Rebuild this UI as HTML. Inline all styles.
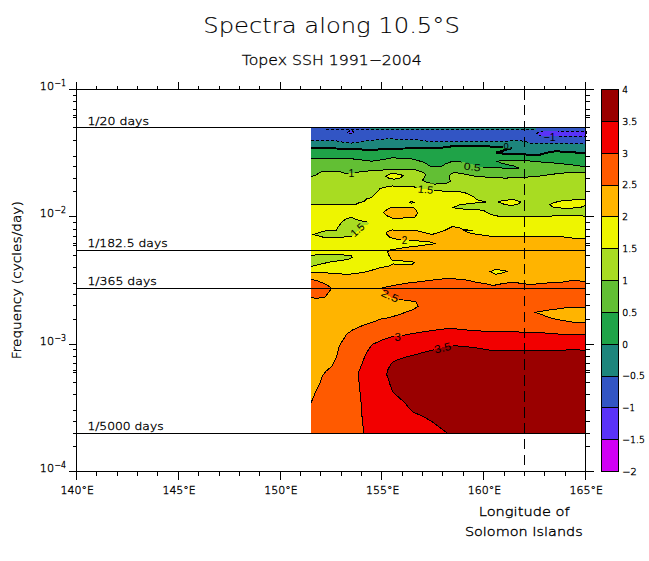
<!DOCTYPE html>
<html><head><meta charset="utf-8"><title>Spectra along 10.5°S</title>
<style>html,body{margin:0;padding:0;background:#fff}svg{display:block}</style></head>
<body>
<svg width="649" height="561" viewBox="0 0 649 561">
<rect width="649" height="561" fill="#fff"/>
<g shape-rendering="crispEdges">
<rect x="311" y="128" width="275" height="305" fill="#3255c4"/>
<rect x="370" y="128" width="166" height="1.6" fill="#1d857c"/>
<polygon points="536.6,133.7 538.5,132.3 543.4,131.4 552.0,131.0 586.0,131.0 586.0,136.6 562.0,136.3 542.0,136.3 539.5,135.3" fill="#5a32f8"/>
<polygon points="347.5,132.5 350.0,130.6 352.5,131.0 354.0,132.8 351.0,133.7" fill="#5a32f8"/>
<polygon points="311.0,140.5 335.8,140.7 342.0,142.0 350.6,143.2 356.8,142.3 364.2,141.1 374.0,140.2 385.0,139.3 391.1,138.0 394.8,139.3 417.0,139.9 429.3,141.5 460.0,141.5 509.0,141.1 511.0,140.2 516.0,140.2 525.0,141.4 531.0,143.2 552.0,143.2 586.0,143.9 586.0,433.0 311.0,433.0" fill="#1d857c"/>
<polygon points="311.0,148.1 325.8,148.1 335.8,148.5 356.8,148.9 363.0,149.6 371.6,150.1 379.0,149.4 385.0,148.7 404.7,148.5 439.2,148.1 449.0,146.7 451.2,146.4 469.7,145.7 482.0,146.0 501.7,147.3 512.2,148.1 495.8,152.6 505.4,153.9 515.0,153.8 524.9,154.3 531.0,155.3 539.7,154.7 549.5,152.2 555.7,151.3 566.8,151.8 576.7,152.6 586.0,153.0 586.0,433.0 311.0,433.0" fill="#1fa348"/>
<polygon points="311.0,158.7 351.9,158.7 356.8,159.6 364.2,160.2 371.6,161.2 379.0,160.2 392.3,157.8 410.8,158.7 423.2,162.0 431.8,167.0 441.7,166.2 445.5,163.9 451.1,161.8 455.3,161.1 468.0,163.0 481.6,167.3 490.0,167.8 519.3,168.3 513.1,165.8 502.3,163.5 496.9,161.2 503.9,160.4 523.9,160.4 536.2,161.6 556.3,163.2 573.2,165.0 586.0,166.8 586.0,433.0 311.0,433.0" fill="#62bf34"/>
<polygon points="311.0,176.7 314.9,175.5 319.8,172.6 323.5,171.2 338.3,171.2 345.7,173.4 350.0,173.0 356.8,172.4 364.2,171.2 380.0,170.5 384.9,169.7 413.3,169.3 421.9,171.8 425.6,174.2 424.4,177.3 422.5,180.4 426.9,182.3 434.3,184.1 446.6,183.5 450.5,181.0 449.0,177.3 450.3,174.2 454.0,172.4 462.3,173.6 474.7,176.1 490.0,177.4 505.4,178.1 520.8,177.4 536.2,176.6 551.6,174.3 570.1,172.4 586.0,172.0 586.0,433.0 311.0,433.0" fill="#a8dc22"/>
<polygon points="386.0,176.3 389.0,174.3 392.3,173.6 399.7,174.2 403.4,175.9 400.0,178.0 393.6,179.2 389.0,178.3" fill="#eef500"/>
<polygon points="311.0,204.5 355.6,204.5 359.3,202.6 364.2,201.4 366.7,198.9 371.6,197.7 375.3,194.0 380.2,188.4 385.0,187.2 392.3,186.0 413.3,186.6 417.0,187.8 425.0,189.0 434.3,190.3 441.8,191.0 454.8,191.3 464.0,192.4 467.7,193.8 472.3,196.1 475.1,197.9 477.0,199.8 486.2,202.1 469.6,203.5 459.4,204.9 452.9,207.6 458.5,208.8 475.1,209.5 483.4,210.4 490.8,214.6 498.0,216.1 520.0,216.3 548.3,216.7 554.5,215.5 579.0,215.5 586.0,216.3 586.0,433.0 311.0,433.0" fill="#eef500"/>
<polygon points="498.0,202.0 502.0,200.7 508.0,200.0 514.5,199.7 521.0,202.2 517.0,204.5 511.0,205.6 505.0,204.5" fill="#eef500"/>
<polygon points="586.0,199.5 575.0,199.8 562.5,200.8 558.0,201.6 553.0,203.0 550.1,204.5 552.0,206.8 556.0,207.8 570.0,208.4 581.6,207.0 586.0,205.0" fill="#eef500"/>
<polygon points="313.6,234.5 322.3,231.4 330.0,230.2 336.2,230.2 337.7,227.7 341.6,222.3 345.4,219.2 350.8,217.3 357.0,219.6 362.4,221.2 367.0,221.9 370.0,223.9 363.9,225.4 360.8,229.3 356.2,232.3 352.3,236.2 341.6,237.3 323.5,237.3" fill="#a8dc22"/>
<polygon points="311.0,255.4 321.0,254.5 342.0,254.8 351.2,255.8 352.5,257.3 348.2,259.5 329.7,262.0 311.0,266.5" fill="#a8dc22"/>
<polygon points="409.6,202.3 411.8,201.4 414.0,202.3 411.8,203.2" fill="#a8dc22"/>
<polygon points="311.0,272.3 335.8,273.3 347.0,274.5 364.2,272.3 374.0,269.6 379.0,268.1 389.6,265.8 393.3,264.0 411.8,264.6 414.3,262.7 411.8,261.5 400.7,260.9 392.0,260.3 388.4,254.7 387.7,251.6 390.8,249.8 406.9,247.3 421.7,245.5 435.5,243.7 429.0,241.8 409.3,240.2 397.0,239.3 389.9,237.6 386.2,233.9 387.4,231.4 392.3,230.0 417.0,230.8 431.8,234.5 444.0,230.8 452.3,226.6 458.5,227.4 462.0,229.0 472.5,230.8 463.5,230.4 470.8,233.4 479.5,234.6 491.8,236.4 520.0,236.8 561.9,236.8 571.7,238.0 586.0,238.3 586.0,433.0 311.0,433.0" fill="#ffb400"/>
<polygon points="383.7,212.3 387.0,209.5 391.7,207.2 413.3,207.2 416.5,210.5 417.5,213.0 414.5,217.9 392.3,218.1 386.2,215.4" fill="#ffb400"/>
<polygon points="490.5,271.6 495.4,269.5 502.0,270.3 507.7,271.3 502.0,273.0 495.4,274.4" fill="#eef500"/>
<polygon points="311.0,403.0 312.4,399.5 316.1,390.8 319.8,383.4 322.3,376.0 326.0,371.1 332.1,366.2 334.6,361.2 337.1,355.0 338.9,347.6 342.0,341.4 346.9,334.0 353.1,329.7 363.0,325.4 374.0,321.7 380.0,319.2 389.8,317.5 399.7,314.4 412.0,310.0 418.2,306.4 415.7,301.8 405.8,300.2 397.5,299.5 391.0,297.8 386.0,293.2 381.5,289.0 382.4,287.9 387.3,286.6 397.2,284.8 408.3,283.0 424.3,281.1 439.1,279.2 449.8,278.4 468.3,280.2 475.7,282.1 486.8,283.9 493.0,285.5 499.1,284.3 504.0,283.3 515.0,282.3 520.0,283.3 529.8,284.5 550.8,282.7 563.1,282.0 574.2,280.2 580.4,281.1 586.0,281.4 586.0,433.0 311.0,433.0" fill="#ff5a00"/>
<polygon points="311.0,279.3 317.3,280.9 324.7,283.6 329.7,286.7 330.9,288.6 329.7,291.0 326.0,296.0 324.7,297.4 317.3,298.2 311.0,297.8" fill="#ff5a00"/>
<polygon points="586.0,322.4 574.2,322.4 566.8,321.2 552.0,318.5 535.3,312.3 552.0,309.6 564.3,308.0 586.0,307.2" fill="#ffb400"/>
<polygon points="363.6,433.0 363.0,425.8 361.7,413.5 361.1,403.2 359.9,390.8 358.6,378.5 358.6,372.3 360.5,367.4 363.0,361.2 365.4,355.0 369.1,348.8 372.2,344.5 379.0,341.4 380.0,340.8 392.3,336.5 403.4,335.3 417.0,332.8 429.3,331.0 439.2,329.5 449.0,328.5 455.0,328.5 458.7,329.5 468.6,330.1 484.6,331.3 515.0,331.8 524.9,332.3 544.6,333.0 564.3,334.5 586.0,334.8 586.0,433.0" fill="#f20000"/>
<polygon points="447.0,433.0 446.5,432.5 439.1,427.0 431.7,421.4 421.9,415.9 413.2,412.2 408.3,407.3 404.6,402.3 399.5,398.0 395.5,394.5 392.6,391.5 390.4,385.8 388.6,379.6 386.7,374.7 387.3,371.0 389.8,366.0 392.3,362.3 397.2,359.9 404.6,357.4 414.5,354.9 424.3,352.2 433.0,350.0 442.0,347.5 455.0,345.5 458.7,346.1 468.6,347.0 477.2,348.0 484.6,349.2 490.8,350.4 565.6,350.4 566.8,349.4 579.0,349.4 580.4,350.4 586.0,350.4 586.0,433.0" fill="#9a0000"/>
</g>
<defs><mask id="lm" maskUnits="userSpaceOnUse" x="0" y="0" width="649" height="561"><rect width="649" height="561" fill="#fff"/><rect x="543" y="131" width="15" height="11" fill="#000"/>
<rect x="503" y="142.5" width="7.5" height="6.099999999999994" fill="#000"/>
<rect x="461.5" y="160.5" width="21.5" height="10.5" fill="#000"/>
<rect x="348.5" y="168" width="6.300000000000011" height="9.5" fill="#000"/>
<rect x="416.5" y="183.5" width="17.5" height="11.0" fill="#000"/>
<rect x="352" y="222" width="18" height="16" fill="#000"/>
<rect x="401" y="235.5" width="8" height="9.0" fill="#000"/>
<rect x="379" y="288" width="20" height="13" fill="#000"/>
<rect x="394" y="331" width="8" height="11" fill="#000"/>
<rect x="434" y="341.5" width="19" height="13.0" fill="#000"/></mask></defs>
<g mask="url(#lm)" shape-rendering="crispEdges">
<polyline points="311.0,140.5 335.8,140.7 342.0,142.0 350.6,143.2 356.8,142.3 364.2,141.1 374.0,140.2 385.0,139.3 391.1,138.0 394.8,139.3 417.0,139.9 429.3,141.5 460.0,141.5 509.0,141.1 511.0,140.2 516.0,140.2 525.0,141.4 531.0,143.2 552.0,143.2 586.0,143.9" fill="none" stroke="#000" stroke-width="1" stroke-dasharray="3 2"/>
<polyline points="326.0,129.5 536.0,129.5" fill="none" stroke="#000" stroke-width="1" stroke-dasharray="3 2"/>
<polyline points="311.0,148.1 325.8,148.1 335.8,148.5 356.8,148.9 363.0,149.6 371.6,150.1 379.0,149.4 385.0,148.7 404.7,148.5 439.2,148.1 449.0,146.7 451.2,146.4 469.7,145.7 482.0,146.0 501.7,147.3 512.2,148.1 495.8,152.6 505.4,153.9 515.0,153.8 524.9,154.3 531.0,155.3 539.7,154.7 549.5,152.2 555.7,151.3 566.8,151.8 576.7,152.6 586.0,153.0" fill="none" stroke="#000" stroke-width="2"/>
<polyline points="311.0,158.7 351.9,158.7 356.8,159.6 364.2,160.2 371.6,161.2 379.0,160.2 392.3,157.8 410.8,158.7 423.2,162.0 431.8,167.0 441.7,166.2 445.5,163.9 451.1,161.8 455.3,161.1 468.0,163.0 481.6,167.3 490.0,167.8 519.3,168.3 513.1,165.8 502.3,163.5 496.9,161.2 503.9,160.4 523.9,160.4 536.2,161.6 556.3,163.2 573.2,165.0 586.0,166.8" fill="none" stroke="#000" stroke-width="1"/>
<polyline points="311.0,176.7 314.9,175.5 319.8,172.6 323.5,171.2 338.3,171.2 345.7,173.4 350.0,173.0 356.8,172.4 364.2,171.2 380.0,170.5 384.9,169.7 413.3,169.3 421.9,171.8 425.6,174.2 424.4,177.3 422.5,180.4 426.9,182.3 434.3,184.1 446.6,183.5 450.5,181.0 449.0,177.3 450.3,174.2 454.0,172.4 462.3,173.6 474.7,176.1 490.0,177.4 505.4,178.1 520.8,177.4 536.2,176.6 551.6,174.3 570.1,172.4 586.0,172.0" fill="none" stroke="#000" stroke-width="1"/>
<polyline points="311.0,204.5 355.6,204.5 359.3,202.6 364.2,201.4 366.7,198.9 371.6,197.7 375.3,194.0 380.2,188.4 385.0,187.2 392.3,186.0 413.3,186.6 417.0,187.8 425.0,189.0 434.3,190.3 441.8,191.0 454.8,191.3 464.0,192.4 467.7,193.8 472.3,196.1 475.1,197.9 477.0,199.8 486.2,202.1 469.6,203.5 459.4,204.9 452.9,207.6 458.5,208.8 475.1,209.5 483.4,210.4 490.8,214.6 498.0,216.1 520.0,216.3 548.3,216.7 554.5,215.5 579.0,215.5 586.0,216.3" fill="none" stroke="#000" stroke-width="1"/>
<polyline points="311.0,272.3 335.8,273.3 347.0,274.5 364.2,272.3 374.0,269.6 379.0,268.1 389.6,265.8 393.3,264.0 411.8,264.6 414.3,262.7 411.8,261.5 400.7,260.9 392.0,260.3 388.4,254.7 387.7,251.6 390.8,249.8 406.9,247.3 421.7,245.5 435.5,243.7 429.0,241.8 409.3,240.2 397.0,239.3 389.9,237.6 386.2,233.9 387.4,231.4 392.3,230.0 417.0,230.8 431.8,234.5 444.0,230.8 452.3,226.6 458.5,227.4 462.0,229.0 472.5,230.8 463.5,230.4 470.8,233.4 479.5,234.6 491.8,236.4 520.0,236.8 561.9,236.8 571.7,238.0 586.0,238.3" fill="none" stroke="#000" stroke-width="1"/>
<polyline points="311.0,403.0 312.4,399.5 316.1,390.8 319.8,383.4 322.3,376.0 326.0,371.1 332.1,366.2 334.6,361.2 337.1,355.0 338.9,347.6 342.0,341.4 346.9,334.0 353.1,329.7 363.0,325.4 374.0,321.7 380.0,319.2 389.8,317.5 399.7,314.4 412.0,310.0 418.2,306.4 415.7,301.8 405.8,300.2 397.5,299.5 391.0,297.8 386.0,293.2 381.5,289.0 382.4,287.9 387.3,286.6 397.2,284.8 408.3,283.0 424.3,281.1 439.1,279.2 449.8,278.4 468.3,280.2 475.7,282.1 486.8,283.9 493.0,285.5 499.1,284.3 504.0,283.3 515.0,282.3 520.0,283.3 529.8,284.5 550.8,282.7 563.1,282.0 574.2,280.2 580.4,281.1 586.0,281.4" fill="none" stroke="#000" stroke-width="1"/>
<polyline points="363.6,433.0 363.0,425.8 361.7,413.5 361.1,403.2 359.9,390.8 358.6,378.5 358.6,372.3 360.5,367.4 363.0,361.2 365.4,355.0 369.1,348.8 372.2,344.5 379.0,341.4 380.0,340.8 392.3,336.5 403.4,335.3 417.0,332.8 429.3,331.0 439.2,329.5 449.0,328.5 455.0,328.5 458.7,329.5 468.6,330.1 484.6,331.3 515.0,331.8 524.9,332.3 544.6,333.0 564.3,334.5 586.0,334.8" fill="none" stroke="#000" stroke-width="1"/>
<polyline points="447.0,433.0 446.5,432.5 439.1,427.0 431.7,421.4 421.9,415.9 413.2,412.2 408.3,407.3 404.6,402.3 399.5,398.0 395.5,394.5 392.6,391.5 390.4,385.8 388.6,379.6 386.7,374.7 387.3,371.0 389.8,366.0 392.3,362.3 397.2,359.9 404.6,357.4 414.5,354.9 424.3,352.2 433.0,350.0 442.0,347.5 455.0,345.5 458.7,346.1 468.6,347.0 477.2,348.0 484.6,349.2 490.8,350.4 565.6,350.4 566.8,349.4 579.0,349.4 580.4,350.4 586.0,350.4" fill="none" stroke="#000" stroke-width="1"/>
<polygon points="536.6,133.7 538.5,132.3 543.4,131.4 552.0,131.0 586.0,131.0 586.0,136.6 562.0,136.3 542.0,136.3 539.5,135.3" fill="none" stroke="#000" stroke-width="1" stroke-dasharray="3 2"/>
<polygon points="347.5,132.5 350.0,130.6 352.5,131.0 354.0,132.8 351.0,133.7" fill="none" stroke="#000" stroke-width="1" stroke-dasharray="3 2"/>
<polygon points="386.0,176.3 389.0,174.3 392.3,173.6 399.7,174.2 403.4,175.9 400.0,178.0 393.6,179.2 389.0,178.3" fill="none" stroke="#000" stroke-width="1"/>
<polygon points="498.0,202.0 502.0,200.7 508.0,200.0 514.5,199.7 521.0,202.2 517.0,204.5 511.0,205.6 505.0,204.5" fill="none" stroke="#000" stroke-width="1"/>
<polyline points="586.0,199.5 575.0,199.8 562.5,200.8 558.0,201.6 553.0,203.0 550.1,204.5 552.0,206.8 556.0,207.8 570.0,208.4 581.6,207.0 586.0,205.0" fill="none" stroke="#000" stroke-width="1"/>
<polygon points="313.6,234.5 322.3,231.4 330.0,230.2 336.2,230.2 337.7,227.7 341.6,222.3 345.4,219.2 350.8,217.3 357.0,219.6 362.4,221.2 367.0,221.9 370.0,223.9 363.9,225.4 360.8,229.3 356.2,232.3 352.3,236.2 341.6,237.3 323.5,237.3" fill="none" stroke="#000" stroke-width="1"/>
<polyline points="311.0,255.4 321.0,254.5 342.0,254.8 351.2,255.8 352.5,257.3 348.2,259.5 329.7,262.0 311.0,266.5" fill="none" stroke="#000" stroke-width="1"/>
<polygon points="409.6,202.3 411.8,201.4 414.0,202.3 411.8,203.2" fill="none" stroke="#000" stroke-width="1"/>
<polygon points="383.7,212.3 387.0,209.5 391.7,207.2 413.3,207.2 416.5,210.5 417.5,213.0 414.5,217.9 392.3,218.1 386.2,215.4" fill="none" stroke="#000" stroke-width="1"/>
<polygon points="490.5,271.6 495.4,269.5 502.0,270.3 507.7,271.3 502.0,273.0 495.4,274.4" fill="none" stroke="#000" stroke-width="1"/>
<polyline points="311.0,279.3 317.3,280.9 324.7,283.6 329.7,286.7 330.9,288.6 329.7,291.0 326.0,296.0 324.7,297.4 317.3,298.2 311.0,297.8" fill="none" stroke="#000" stroke-width="1"/>
<polyline points="586.0,322.4 574.2,322.4 566.8,321.2 552.0,318.5 535.3,312.3 552.0,309.6 564.3,308.0 586.0,307.2" fill="none" stroke="#000" stroke-width="1"/>
</g>
<text x="543.5" y="140.8" font-size="10.5" font-family="Liberation Sans, sans-serif">−1</text>
<text x="503.6" y="149.3" font-size="9.4" font-family="Liberation Sans, sans-serif">0</text>
<text x="463.6" y="169.6" font-size="10.2" font-family="Liberation Sans, sans-serif" transform="rotate(6 463.6 169.6)" textLength="16.8" lengthAdjust="spacingAndGlyphs">0.5</text>
<text x="348.6" y="176.8" font-size="10.5" font-family="Liberation Sans, sans-serif">1</text>
<text x="417.6" y="192.4" font-size="10.5" font-family="Liberation Sans, sans-serif" transform="rotate(6 417.6 192.4)" textLength="15.4" lengthAdjust="spacingAndGlyphs">1.5</text>
<text x="354.5" y="237.5" font-size="10.5" font-family="Liberation Sans, sans-serif" transform="rotate(-42 354.5 237.5)">1.5</text>
<text x="401.7" y="243.8" font-size="10" font-family="Liberation Sans, sans-serif">2</text>
<text x="380.3" y="295.6" font-size="10.5" font-family="Liberation Sans, sans-serif" transform="rotate(24 380.3 295.6)" textLength="18" lengthAdjust="spacingAndGlyphs">2.5</text>
<text x="394.6" y="341" font-size="11.5" font-family="Liberation Sans, sans-serif">3</text>
<text x="435.3" y="353.6" font-size="11" font-family="Liberation Sans, sans-serif" transform="rotate(-14 435.3 353.6)" textLength="17" lengthAdjust="spacingAndGlyphs">3.5</text>
<g shape-rendering="crispEdges">
<line x1="76" y1="127.5" x2="585" y2="127.5" stroke="#000" stroke-width="1"/>
<line x1="76" y1="250.5" x2="585" y2="250.5" stroke="#000" stroke-width="1"/>
<line x1="76" y1="288.5" x2="585" y2="288.5" stroke="#000" stroke-width="1"/>
<line x1="76" y1="433.5" x2="585" y2="433.5" stroke="#000" stroke-width="1"/>
<rect x="76.5" y="89.5" width="509" height="382" fill="none" stroke="#000" stroke-width="1"/>
<line x1="76.5" y1="89.5" x2="76.5" y2="81.5" stroke="#000" stroke-width="1"/>
<line x1="76.5" y1="471.5" x2="76.5" y2="479.5" stroke="#000" stroke-width="1"/>
<line x1="96.5" y1="89.5" x2="96.5" y2="85.5" stroke="#000" stroke-width="1"/>
<line x1="96.5" y1="471.5" x2="96.5" y2="475.5" stroke="#000" stroke-width="1"/>
<line x1="117.5" y1="89.5" x2="117.5" y2="85.5" stroke="#000" stroke-width="1"/>
<line x1="117.5" y1="471.5" x2="117.5" y2="475.5" stroke="#000" stroke-width="1"/>
<line x1="137.5" y1="89.5" x2="137.5" y2="85.5" stroke="#000" stroke-width="1"/>
<line x1="137.5" y1="471.5" x2="137.5" y2="475.5" stroke="#000" stroke-width="1"/>
<line x1="157.5" y1="89.5" x2="157.5" y2="85.5" stroke="#000" stroke-width="1"/>
<line x1="157.5" y1="471.5" x2="157.5" y2="475.5" stroke="#000" stroke-width="1"/>
<line x1="178.5" y1="89.5" x2="178.5" y2="81.5" stroke="#000" stroke-width="1"/>
<line x1="178.5" y1="471.5" x2="178.5" y2="479.5" stroke="#000" stroke-width="1"/>
<line x1="198.5" y1="89.5" x2="198.5" y2="85.5" stroke="#000" stroke-width="1"/>
<line x1="198.5" y1="471.5" x2="198.5" y2="475.5" stroke="#000" stroke-width="1"/>
<line x1="219.5" y1="89.5" x2="219.5" y2="85.5" stroke="#000" stroke-width="1"/>
<line x1="219.5" y1="471.5" x2="219.5" y2="475.5" stroke="#000" stroke-width="1"/>
<line x1="239.5" y1="89.5" x2="239.5" y2="85.5" stroke="#000" stroke-width="1"/>
<line x1="239.5" y1="471.5" x2="239.5" y2="475.5" stroke="#000" stroke-width="1"/>
<line x1="259.5" y1="89.5" x2="259.5" y2="85.5" stroke="#000" stroke-width="1"/>
<line x1="259.5" y1="471.5" x2="259.5" y2="475.5" stroke="#000" stroke-width="1"/>
<line x1="280.5" y1="89.5" x2="280.5" y2="81.5" stroke="#000" stroke-width="1"/>
<line x1="280.5" y1="471.5" x2="280.5" y2="479.5" stroke="#000" stroke-width="1"/>
<line x1="300.5" y1="89.5" x2="300.5" y2="85.5" stroke="#000" stroke-width="1"/>
<line x1="300.5" y1="471.5" x2="300.5" y2="475.5" stroke="#000" stroke-width="1"/>
<line x1="320.5" y1="89.5" x2="320.5" y2="85.5" stroke="#000" stroke-width="1"/>
<line x1="320.5" y1="471.5" x2="320.5" y2="475.5" stroke="#000" stroke-width="1"/>
<line x1="341.5" y1="89.5" x2="341.5" y2="85.5" stroke="#000" stroke-width="1"/>
<line x1="341.5" y1="471.5" x2="341.5" y2="475.5" stroke="#000" stroke-width="1"/>
<line x1="361.5" y1="89.5" x2="361.5" y2="85.5" stroke="#000" stroke-width="1"/>
<line x1="361.5" y1="471.5" x2="361.5" y2="475.5" stroke="#000" stroke-width="1"/>
<line x1="381.5" y1="89.5" x2="381.5" y2="81.5" stroke="#000" stroke-width="1"/>
<line x1="381.5" y1="471.5" x2="381.5" y2="479.5" stroke="#000" stroke-width="1"/>
<line x1="402.5" y1="89.5" x2="402.5" y2="85.5" stroke="#000" stroke-width="1"/>
<line x1="402.5" y1="471.5" x2="402.5" y2="475.5" stroke="#000" stroke-width="1"/>
<line x1="422.5" y1="89.5" x2="422.5" y2="85.5" stroke="#000" stroke-width="1"/>
<line x1="422.5" y1="471.5" x2="422.5" y2="475.5" stroke="#000" stroke-width="1"/>
<line x1="442.5" y1="89.5" x2="442.5" y2="85.5" stroke="#000" stroke-width="1"/>
<line x1="442.5" y1="471.5" x2="442.5" y2="475.5" stroke="#000" stroke-width="1"/>
<line x1="463.5" y1="89.5" x2="463.5" y2="85.5" stroke="#000" stroke-width="1"/>
<line x1="463.5" y1="471.5" x2="463.5" y2="475.5" stroke="#000" stroke-width="1"/>
<line x1="483.5" y1="89.5" x2="483.5" y2="81.5" stroke="#000" stroke-width="1"/>
<line x1="483.5" y1="471.5" x2="483.5" y2="479.5" stroke="#000" stroke-width="1"/>
<line x1="504.5" y1="89.5" x2="504.5" y2="85.5" stroke="#000" stroke-width="1"/>
<line x1="504.5" y1="471.5" x2="504.5" y2="475.5" stroke="#000" stroke-width="1"/>
<line x1="524.5" y1="89.5" x2="524.5" y2="85.5" stroke="#000" stroke-width="1"/>
<line x1="524.5" y1="471.5" x2="524.5" y2="475.5" stroke="#000" stroke-width="1"/>
<line x1="544.5" y1="89.5" x2="544.5" y2="85.5" stroke="#000" stroke-width="1"/>
<line x1="544.5" y1="471.5" x2="544.5" y2="475.5" stroke="#000" stroke-width="1"/>
<line x1="565.5" y1="89.5" x2="565.5" y2="85.5" stroke="#000" stroke-width="1"/>
<line x1="565.5" y1="471.5" x2="565.5" y2="475.5" stroke="#000" stroke-width="1"/>
<line x1="585.5" y1="89.5" x2="585.5" y2="81.5" stroke="#000" stroke-width="1"/>
<line x1="585.5" y1="471.5" x2="585.5" y2="479.5" stroke="#000" stroke-width="1"/>
<line x1="72.5" y1="95.5" x2="76.5" y2="95.5" stroke="#000" stroke-width="1"/>
<line x1="585.5" y1="95.5" x2="589.5" y2="95.5" stroke="#000" stroke-width="1"/>
<line x1="72.5" y1="101.5" x2="76.5" y2="101.5" stroke="#000" stroke-width="1"/>
<line x1="585.5" y1="101.5" x2="589.5" y2="101.5" stroke="#000" stroke-width="1"/>
<line x1="72.5" y1="109.5" x2="76.5" y2="109.5" stroke="#000" stroke-width="1"/>
<line x1="585.5" y1="109.5" x2="589.5" y2="109.5" stroke="#000" stroke-width="1"/>
<line x1="72.5" y1="117.5" x2="76.5" y2="117.5" stroke="#000" stroke-width="1"/>
<line x1="585.5" y1="117.5" x2="589.5" y2="117.5" stroke="#000" stroke-width="1"/>
<line x1="72.5" y1="127.5" x2="76.5" y2="127.5" stroke="#000" stroke-width="1"/>
<line x1="585.5" y1="127.5" x2="589.5" y2="127.5" stroke="#000" stroke-width="1"/>
<line x1="72.5" y1="140.5" x2="76.5" y2="140.5" stroke="#000" stroke-width="1"/>
<line x1="585.5" y1="140.5" x2="589.5" y2="140.5" stroke="#000" stroke-width="1"/>
<line x1="72.5" y1="156.5" x2="76.5" y2="156.5" stroke="#000" stroke-width="1"/>
<line x1="585.5" y1="156.5" x2="589.5" y2="156.5" stroke="#000" stroke-width="1"/>
<line x1="72.5" y1="178.5" x2="76.5" y2="178.5" stroke="#000" stroke-width="1"/>
<line x1="585.5" y1="178.5" x2="589.5" y2="178.5" stroke="#000" stroke-width="1"/>
<line x1="72.5" y1="115.5" x2="76.5" y2="115.5" stroke="#000" stroke-width="1"/>
<line x1="585.5" y1="115.5" x2="589.5" y2="115.5" stroke="#000" stroke-width="1"/>
<line x1="72.5" y1="166.5" x2="76.5" y2="166.5" stroke="#000" stroke-width="1"/>
<line x1="585.5" y1="166.5" x2="589.5" y2="166.5" stroke="#000" stroke-width="1"/>
<line x1="72.5" y1="191.5" x2="76.5" y2="191.5" stroke="#000" stroke-width="1"/>
<line x1="585.5" y1="191.5" x2="589.5" y2="191.5" stroke="#000" stroke-width="1"/>
<line x1="72.5" y1="222.5" x2="76.5" y2="222.5" stroke="#000" stroke-width="1"/>
<line x1="585.5" y1="222.5" x2="589.5" y2="222.5" stroke="#000" stroke-width="1"/>
<line x1="72.5" y1="229.5" x2="76.5" y2="229.5" stroke="#000" stroke-width="1"/>
<line x1="585.5" y1="229.5" x2="589.5" y2="229.5" stroke="#000" stroke-width="1"/>
<line x1="72.5" y1="236.5" x2="76.5" y2="236.5" stroke="#000" stroke-width="1"/>
<line x1="585.5" y1="236.5" x2="589.5" y2="236.5" stroke="#000" stroke-width="1"/>
<line x1="72.5" y1="245.5" x2="76.5" y2="245.5" stroke="#000" stroke-width="1"/>
<line x1="585.5" y1="245.5" x2="589.5" y2="245.5" stroke="#000" stroke-width="1"/>
<line x1="72.5" y1="255.5" x2="76.5" y2="255.5" stroke="#000" stroke-width="1"/>
<line x1="585.5" y1="255.5" x2="589.5" y2="255.5" stroke="#000" stroke-width="1"/>
<line x1="72.5" y1="267.5" x2="76.5" y2="267.5" stroke="#000" stroke-width="1"/>
<line x1="585.5" y1="267.5" x2="589.5" y2="267.5" stroke="#000" stroke-width="1"/>
<line x1="72.5" y1="283.5" x2="76.5" y2="283.5" stroke="#000" stroke-width="1"/>
<line x1="585.5" y1="283.5" x2="589.5" y2="283.5" stroke="#000" stroke-width="1"/>
<line x1="72.5" y1="305.5" x2="76.5" y2="305.5" stroke="#000" stroke-width="1"/>
<line x1="585.5" y1="305.5" x2="589.5" y2="305.5" stroke="#000" stroke-width="1"/>
<line x1="72.5" y1="243.5" x2="76.5" y2="243.5" stroke="#000" stroke-width="1"/>
<line x1="585.5" y1="243.5" x2="589.5" y2="243.5" stroke="#000" stroke-width="1"/>
<line x1="72.5" y1="294.5" x2="76.5" y2="294.5" stroke="#000" stroke-width="1"/>
<line x1="585.5" y1="294.5" x2="589.5" y2="294.5" stroke="#000" stroke-width="1"/>
<line x1="72.5" y1="319.5" x2="76.5" y2="319.5" stroke="#000" stroke-width="1"/>
<line x1="585.5" y1="319.5" x2="589.5" y2="319.5" stroke="#000" stroke-width="1"/>
<line x1="72.5" y1="349.5" x2="76.5" y2="349.5" stroke="#000" stroke-width="1"/>
<line x1="585.5" y1="349.5" x2="589.5" y2="349.5" stroke="#000" stroke-width="1"/>
<line x1="72.5" y1="356.5" x2="76.5" y2="356.5" stroke="#000" stroke-width="1"/>
<line x1="585.5" y1="356.5" x2="589.5" y2="356.5" stroke="#000" stroke-width="1"/>
<line x1="72.5" y1="363.5" x2="76.5" y2="363.5" stroke="#000" stroke-width="1"/>
<line x1="585.5" y1="363.5" x2="589.5" y2="363.5" stroke="#000" stroke-width="1"/>
<line x1="72.5" y1="372.5" x2="76.5" y2="372.5" stroke="#000" stroke-width="1"/>
<line x1="585.5" y1="372.5" x2="589.5" y2="372.5" stroke="#000" stroke-width="1"/>
<line x1="72.5" y1="382.5" x2="76.5" y2="382.5" stroke="#000" stroke-width="1"/>
<line x1="585.5" y1="382.5" x2="589.5" y2="382.5" stroke="#000" stroke-width="1"/>
<line x1="72.5" y1="394.5" x2="76.5" y2="394.5" stroke="#000" stroke-width="1"/>
<line x1="585.5" y1="394.5" x2="589.5" y2="394.5" stroke="#000" stroke-width="1"/>
<line x1="72.5" y1="410.5" x2="76.5" y2="410.5" stroke="#000" stroke-width="1"/>
<line x1="585.5" y1="410.5" x2="589.5" y2="410.5" stroke="#000" stroke-width="1"/>
<line x1="72.5" y1="433.5" x2="76.5" y2="433.5" stroke="#000" stroke-width="1"/>
<line x1="585.5" y1="433.5" x2="589.5" y2="433.5" stroke="#000" stroke-width="1"/>
<line x1="72.5" y1="370.5" x2="76.5" y2="370.5" stroke="#000" stroke-width="1"/>
<line x1="585.5" y1="370.5" x2="589.5" y2="370.5" stroke="#000" stroke-width="1"/>
<line x1="72.5" y1="421.5" x2="76.5" y2="421.5" stroke="#000" stroke-width="1"/>
<line x1="585.5" y1="421.5" x2="589.5" y2="421.5" stroke="#000" stroke-width="1"/>
<line x1="72.5" y1="446.5" x2="76.5" y2="446.5" stroke="#000" stroke-width="1"/>
<line x1="585.5" y1="446.5" x2="589.5" y2="446.5" stroke="#000" stroke-width="1"/>
<line x1="68.5" y1="89.5" x2="76.5" y2="89.5" stroke="#000" stroke-width="1"/>
<line x1="585.5" y1="89.5" x2="593.5" y2="89.5" stroke="#000" stroke-width="1"/>
<line x1="68.5" y1="216.5" x2="76.5" y2="216.5" stroke="#000" stroke-width="1"/>
<line x1="585.5" y1="216.5" x2="593.5" y2="216.5" stroke="#000" stroke-width="1"/>
<line x1="68.5" y1="344.5" x2="76.5" y2="344.5" stroke="#000" stroke-width="1"/>
<line x1="585.5" y1="344.5" x2="593.5" y2="344.5" stroke="#000" stroke-width="1"/>
<line x1="68.5" y1="471.5" x2="76.5" y2="471.5" stroke="#000" stroke-width="1"/>
<line x1="585.5" y1="471.5" x2="593.5" y2="471.5" stroke="#000" stroke-width="1"/>
<line x1="524.5" y1="89" x2="524.5" y2="476" stroke="#000" stroke-width="1" stroke-dasharray="10.5 5.4"/>
<rect x="601.5" y="89.50" width="17" height="31.83" fill="#9a0000" stroke="#000" stroke-width="1"/>
<rect x="601.5" y="121.33" width="17" height="31.83" fill="#f20000" stroke="#000" stroke-width="1"/>
<rect x="601.5" y="153.17" width="17" height="31.83" fill="#ff5a00" stroke="#000" stroke-width="1"/>
<rect x="601.5" y="185.00" width="17" height="31.83" fill="#ffb400" stroke="#000" stroke-width="1"/>
<rect x="601.5" y="216.83" width="17" height="31.83" fill="#eef500" stroke="#000" stroke-width="1"/>
<rect x="601.5" y="248.67" width="17" height="31.83" fill="#a8dc22" stroke="#000" stroke-width="1"/>
<rect x="601.5" y="280.50" width="17" height="31.83" fill="#62bf34" stroke="#000" stroke-width="1"/>
<rect x="601.5" y="312.33" width="17" height="31.83" fill="#1fa348" stroke="#000" stroke-width="1"/>
<rect x="601.5" y="344.17" width="17" height="31.83" fill="#1d857c" stroke="#000" stroke-width="1"/>
<rect x="601.5" y="376.00" width="17" height="31.83" fill="#3255c4" stroke="#000" stroke-width="1"/>
<rect x="601.5" y="407.83" width="17" height="31.83" fill="#5a32f8" stroke="#000" stroke-width="1"/>
<rect x="601.5" y="439.67" width="17" height="31.83" fill="#d200f5" stroke="#000" stroke-width="1"/>
<text x="622.3" y="92.9" font-size="9.0" font-family="DejaVu Sans, Liberation Sans, sans-serif" font-weight="200" stroke="#000" stroke-width="0.35">4</text>
<text x="622.3" y="124.7" font-size="9.0" font-family="DejaVu Sans, Liberation Sans, sans-serif" font-weight="200" stroke="#000" stroke-width="0.35" textLength="15" lengthAdjust="spacingAndGlyphs">3.5</text>
<text x="622.3" y="156.6" font-size="9.0" font-family="DejaVu Sans, Liberation Sans, sans-serif" font-weight="200" stroke="#000" stroke-width="0.35">3</text>
<text x="622.3" y="188.4" font-size="9.0" font-family="DejaVu Sans, Liberation Sans, sans-serif" font-weight="200" stroke="#000" stroke-width="0.35" textLength="15" lengthAdjust="spacingAndGlyphs">2.5</text>
<text x="622.3" y="220.2" font-size="9.0" font-family="DejaVu Sans, Liberation Sans, sans-serif" font-weight="200" stroke="#000" stroke-width="0.35">2</text>
<text x="622.3" y="252.1" font-size="9.0" font-family="DejaVu Sans, Liberation Sans, sans-serif" font-weight="200" stroke="#000" stroke-width="0.35" textLength="15" lengthAdjust="spacingAndGlyphs">1.5</text>
<text x="622.3" y="283.9" font-size="9.0" font-family="DejaVu Sans, Liberation Sans, sans-serif" font-weight="200" stroke="#000" stroke-width="0.35">1</text>
<text x="622.3" y="315.7" font-size="9.0" font-family="DejaVu Sans, Liberation Sans, sans-serif" font-weight="200" stroke="#000" stroke-width="0.35" textLength="15" lengthAdjust="spacingAndGlyphs">0.5</text>
<text x="622.3" y="347.6" font-size="9.0" font-family="DejaVu Sans, Liberation Sans, sans-serif" font-weight="200" stroke="#000" stroke-width="0.35">0</text>
<text x="622.3" y="379.4" font-size="9.0" font-family="DejaVu Sans, Liberation Sans, sans-serif" font-weight="200" stroke="#000" stroke-width="0.35" textLength="22.5" lengthAdjust="spacingAndGlyphs">−0.5</text>
<text x="622.3" y="411.2" font-size="9.0" font-family="DejaVu Sans, Liberation Sans, sans-serif" font-weight="200" stroke="#000" stroke-width="0.35" textLength="12.5" lengthAdjust="spacingAndGlyphs">−1</text>
<text x="622.3" y="443.1" font-size="9.0" font-family="DejaVu Sans, Liberation Sans, sans-serif" font-weight="200" stroke="#000" stroke-width="0.35" textLength="22.5" lengthAdjust="spacingAndGlyphs">−1.5</text>
<text x="622.3" y="474.9" font-size="9.0" font-family="DejaVu Sans, Liberation Sans, sans-serif" font-weight="200" stroke="#000" stroke-width="0.35" textLength="14.5" lengthAdjust="spacingAndGlyphs">−2</text>
</g>
<text x="203.3" y="33" font-size="22.0" text-anchor="start" font-family="DejaVu Sans, Liberation Sans, sans-serif" font-weight="200" stroke="#000" stroke-width="0.12" textLength="256.5" lengthAdjust="spacingAndGlyphs">Spectra along 10.5°S</text>
<text x="241.8" y="65" font-size="14.4" text-anchor="start" font-family="DejaVu Sans, Liberation Sans, sans-serif" font-weight="200" stroke="#000" stroke-width="0.3" textLength="180" lengthAdjust="spacingAndGlyphs">Topex SSH 1991−2004</text>
<text x="87.4" y="124.6" font-size="11.2" text-anchor="start" font-family="DejaVu Sans, Liberation Sans, sans-serif" font-weight="200" stroke="#000" stroke-width="0.35" textLength="61.6" lengthAdjust="spacingAndGlyphs">1/20 days</text>
<text x="87.4" y="246.5" font-size="11.2" text-anchor="start" font-family="DejaVu Sans, Liberation Sans, sans-serif" font-weight="200" stroke="#000" stroke-width="0.35" textLength="80.2" lengthAdjust="spacingAndGlyphs">1/182.5 days</text>
<text x="87.4" y="284.7" font-size="11.2" text-anchor="start" font-family="DejaVu Sans, Liberation Sans, sans-serif" font-weight="200" stroke="#000" stroke-width="0.35" textLength="69.4" lengthAdjust="spacingAndGlyphs">1/365 days</text>
<text x="87.4" y="429.6" font-size="11.2" text-anchor="start" font-family="DejaVu Sans, Liberation Sans, sans-serif" font-weight="200" stroke="#000" stroke-width="0.35" textLength="76.2" lengthAdjust="spacingAndGlyphs">1/5000 days</text>
<text x="478.8" y="516.2" font-size="12.8" text-anchor="start" font-family="DejaVu Sans, Liberation Sans, sans-serif" font-weight="200" stroke="#000" stroke-width="0.35" textLength="90.8" lengthAdjust="spacingAndGlyphs">Longitude of</text>
<text x="464.9" y="535.5" font-size="12.8" text-anchor="start" font-family="DejaVu Sans, Liberation Sans, sans-serif" font-weight="200" stroke="#000" stroke-width="0.35" textLength="117.8" lengthAdjust="spacingAndGlyphs">Solomon Islands</text>
<text x="77.3" y="493.7" font-size="10.6" text-anchor="middle" font-family="DejaVu Sans, Liberation Sans, sans-serif" font-weight="200" stroke="#000" stroke-width="0.35" textLength="33.4" lengthAdjust="spacingAndGlyphs">140°E</text>
<text x="179.1" y="493.7" font-size="10.6" text-anchor="middle" font-family="DejaVu Sans, Liberation Sans, sans-serif" font-weight="200" stroke="#000" stroke-width="0.35" textLength="33.4" lengthAdjust="spacingAndGlyphs">145°E</text>
<text x="280.9" y="493.7" font-size="10.6" text-anchor="middle" font-family="DejaVu Sans, Liberation Sans, sans-serif" font-weight="200" stroke="#000" stroke-width="0.35" textLength="33.4" lengthAdjust="spacingAndGlyphs">150°E</text>
<text x="382.7" y="493.7" font-size="10.6" text-anchor="middle" font-family="DejaVu Sans, Liberation Sans, sans-serif" font-weight="200" stroke="#000" stroke-width="0.35" textLength="33.4" lengthAdjust="spacingAndGlyphs">155°E</text>
<text x="484.5" y="493.7" font-size="10.6" text-anchor="middle" font-family="DejaVu Sans, Liberation Sans, sans-serif" font-weight="200" stroke="#000" stroke-width="0.35" textLength="33.4" lengthAdjust="spacingAndGlyphs">160°E</text>
<text x="586.3" y="493.7" font-size="10.6" text-anchor="middle" font-family="DejaVu Sans, Liberation Sans, sans-serif" font-weight="200" stroke="#000" stroke-width="0.35" textLength="33.4" lengthAdjust="spacingAndGlyphs">165°E</text>
<text x="39.8" y="89.8" font-size="10.6" text-anchor="start" font-family="DejaVu Sans, Liberation Sans, sans-serif" font-weight="200" stroke="#000" stroke-width="0.35" textLength="14.2" lengthAdjust="spacingAndGlyphs">10</text>
<text x="54.5" y="85.8" font-size="8.6" text-anchor="start" font-family="DejaVu Sans, Liberation Sans, sans-serif" font-weight="200" stroke="#000" stroke-width="0.35" textLength="11.6" lengthAdjust="spacingAndGlyphs">−1</text>
<text x="39.8" y="217.1" font-size="10.6" text-anchor="start" font-family="DejaVu Sans, Liberation Sans, sans-serif" font-weight="200" stroke="#000" stroke-width="0.35" textLength="14.2" lengthAdjust="spacingAndGlyphs">10</text>
<text x="54.5" y="213.1" font-size="8.6" text-anchor="start" font-family="DejaVu Sans, Liberation Sans, sans-serif" font-weight="200" stroke="#000" stroke-width="0.35" textLength="11.6" lengthAdjust="spacingAndGlyphs">−2</text>
<text x="39.8" y="344.5" font-size="10.6" text-anchor="start" font-family="DejaVu Sans, Liberation Sans, sans-serif" font-weight="200" stroke="#000" stroke-width="0.35" textLength="14.2" lengthAdjust="spacingAndGlyphs">10</text>
<text x="54.5" y="340.5" font-size="8.6" text-anchor="start" font-family="DejaVu Sans, Liberation Sans, sans-serif" font-weight="200" stroke="#000" stroke-width="0.35" textLength="11.6" lengthAdjust="spacingAndGlyphs">−3</text>
<text x="39.8" y="471.8" font-size="10.6" text-anchor="start" font-family="DejaVu Sans, Liberation Sans, sans-serif" font-weight="200" stroke="#000" stroke-width="0.35" textLength="14.2" lengthAdjust="spacingAndGlyphs">10</text>
<text x="54.5" y="467.8" font-size="8.6" text-anchor="start" font-family="DejaVu Sans, Liberation Sans, sans-serif" font-weight="200" stroke="#000" stroke-width="0.35" textLength="11.6" lengthAdjust="spacingAndGlyphs">−4</text>
<text transform="translate(21,359.2) rotate(-90)" font-size="12.8" font-family="DejaVu Sans, Liberation Sans, sans-serif" font-weight="200" stroke="#000" stroke-width="0.35" textLength="158" lengthAdjust="spacingAndGlyphs">Frequency (cycles/day)</text>
</svg>
</body></html>
